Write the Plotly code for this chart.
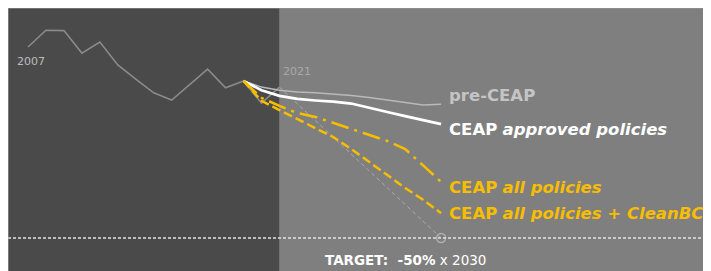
import plotly.graph_objects as go

# Emissions index (2007 = 100)
hist_years = list(range(2007, 2022))
hist_values = [100.0, 104.4, 104.3, 98.4, 101.3, 95.3, 91.6, 88.0, 86.1, 90.1, 94.2, 89.3, 91.1, 85.3, 89.5]

proj_years = list(range(2019, 2031))
pre_ceap = [91.1, 89.5, 88.7, 88.2, 88.0, 87.7, 87.3, 86.8, 86.1, 85.5, 84.8, 85.0]
ceap_approved = [91.1, 88.7, 87.2, 86.4, 86.0, 85.7, 85.2, 84.0, 83.0, 81.9, 80.9, 79.8]
ceap_all = [91.1, 86.7, 84.6, 82.7, 81.7, 80.1, 78.5, 77.0, 75.4, 73.3, 69.1, 64.7]
ceap_cleanbc = [91.1, 85.9, 83.5, 81.2, 78.8, 76.4, 73.3, 69.9, 66.5, 63.1, 60.0, 56.5]

target_years = [2021, 2030]
target_values = [89.5, 50.0]
target_level = 50.0

labels = ["pre-CEAP", "CEAP approved policies", "CEAP all policies", "CEAP all policies + CleanBC"]

X_MIN, X_MAX = 2005.886, 2045.03
Y_MIN, Y_MAX = 41.36, 110.21
SPLIT_YEAR = 2021

YELLOW = "#f7bd00"
FONT = "DejaVu Sans"

fig = go.Figure()

fig.add_trace(go.Scatter(x=target_years, y=target_values, mode="lines",
                         line=dict(color="#ababab", width=1, dash="4px,3px"), hoverinfo="skip"))
fig.add_trace(go.Scatter(x=[target_years[-1]], y=[target_values[-1]], mode="markers",
                         marker=dict(symbol="circle-open", size=9, color="#b0b0b0", line=dict(width=1.5)),
                         hoverinfo="skip"))
fig.add_trace(go.Scatter(x=hist_years, y=hist_values, mode="lines",
                         line=dict(color="#8a8a8a", width=1.6)))
fig.add_trace(go.Scatter(x=proj_years, y=pre_ceap, mode="lines",
                         line=dict(color="#b9b9b9", width=1.5)))
fig.add_trace(go.Scatter(x=proj_years, y=ceap_approved, mode="lines",
                         line=dict(color="#ffffff", width=2.7)))
fig.add_trace(go.Scatter(x=proj_years, y=ceap_all, mode="lines",
                         line=dict(color=YELLOW, width=2.5, dash="18px,6px,3px,6px")))
fig.add_trace(go.Scatter(x=proj_years, y=ceap_cleanbc, mode="lines",
                         line=dict(color=YELLOW, width=2.5, dash="9px,4px")))

shapes = [
    dict(type="rect", xref="x", yref="paper", x0=X_MIN, x1=SPLIT_YEAR, y0=0, y1=1,
         fillcolor="#4a4a4a", line=dict(width=0), layer="below"),
    dict(type="rect", xref="x", yref="paper", x0=SPLIT_YEAR, x1=X_MAX, y0=0, y1=1,
         fillcolor="#7f7f7f", line=dict(width=0), layer="below"),
    dict(type="line", xref="paper", yref="y", x0=0, x1=1, y0=target_level, y1=target_level,
         line=dict(color="#e4e4e4", width=1.3, dash="3px,2px")),
    dict(type="line", xref="paper", yref="paper", x0=0, x1=1, y0=1, y1=1,
         line=dict(color="#9a9a9a", width=1)),
    dict(type="line", xref="paper", yref="paper", x0=0, x1=0, y0=0, y1=1,
         line=dict(color="#a8a8a8", width=1)),
]

label_x = 2030.35
LS = 16.5
annotations = [
    dict(x=label_x, y=87.2, text="<b>" + labels[0] + "</b>", font=dict(color="#c4c4c4", size=LS, family=FONT)),
    dict(x=label_x, y=78.5, text="<b>CEAP</b> <b><i>approved policies</i></b>", font=dict(color="#ffffff", size=LS, family=FONT)),
    dict(x=label_x, y=63.1, text="<b>CEAP</b> <b><i>all policies</i></b>", font=dict(color=YELLOW, size=LS, family=FONT)),
    dict(x=label_x, y=56.3, text="<b>CEAP</b> <b><i>all policies + CleanBC</i></b>", font=dict(color=YELLOW, size=LS, family=FONT)),
    dict(x=2023.45, y=44.2, text="<b>TARGET:  -50%</b> x 2030", font=dict(color="#ffffff", size=13.5, family=FONT)),
    dict(x=2006.3, y=96.1, text="2007", font=dict(color="#bdbdbd", size=11, family=FONT)),
    dict(x=2021.1, y=93.5, text="2021", font=dict(color="#a9a9a9", size=11, family=FONT)),
]
for a in annotations:
    a.update(xref="x", yref="y", xanchor="left", yanchor="middle", showarrow=False)

# The page body keeps its default 8px margin, so the figure starts 8px in.
fig.update_layout(
    width=703, height=263,
    margin=dict(l=0, r=0, t=0, b=0),
    paper_bgcolor="#ffffff", plot_bgcolor="#7f7f7f",
    showlegend=False,
    shapes=shapes, annotations=annotations,
    xaxis=dict(range=[X_MIN, X_MAX], visible=False, showgrid=False, zeroline=False),
    yaxis=dict(range=[Y_MIN, Y_MAX], visible=False, showgrid=False, zeroline=False),
)

fig.write_html("out.html")
